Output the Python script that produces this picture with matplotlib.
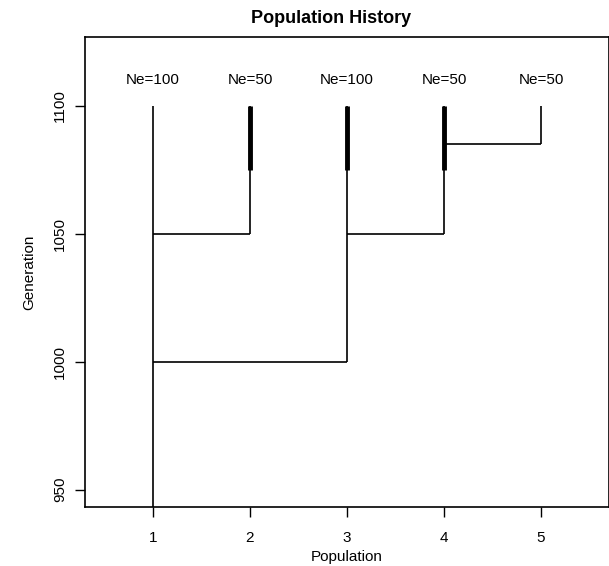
import matplotlib
matplotlib.use("Agg")
import matplotlib.pyplot as plt

plt.rcParams['font.family'] = ['Liberation Sans', 'DejaVu Sans']

populations = [1, 2, 3, 4, 5]
ne_labels = ["Ne=100", "Ne=50", "Ne=100", "Ne=50", "Ne=50"]
top_gen = 1100
# start generation for each population lineage (bottom of vertical)
start_gen = [943.2, 1050, 1000, 1050, 1085]
# bottleneck (thick) segment start generation, None if none
thick_from = [None, 1075, 1075, 1075, None]
# splits: (from population, to population, generation)
splits = [(1, 2, 1050), (1, 3, 1000), (3, 4, 1050), (4, 5, 1085)]
label_gen = 1110

fig = plt.figure(figsize=(6.09, 5.66), dpi=100)
ax = fig.add_axes([85/609, 1-507/566, (609-85)/609, (507-37)/566])

for p, s in zip(populations, start_gen):
    ax.plot([p, p], [s, top_gen], color='black', lw=1.2, solid_capstyle='butt', clip_on=False)
for p, t in zip(populations, thick_from):
    if t is not None:
        ax.plot([p, p], [t, top_gen], color='black', lw=3.5, solid_capstyle='butt')
for a, b, g in splits:
    ax.plot([a, b], [g, g], color='black', lw=1.2, solid_capstyle='butt')
for p, lab in zip(populations, ne_labels):
    ax.text(p, label_gen, lab, ha='center', va='center', fontsize=11)

ax.set_xlim(0.3, 5.7)
ax.set_ylim(943.2, 1126.8)
ax.set_xticks(populations)
ax.set_yticks([950, 1000, 1050, 1100])
ax.set_yticklabels(['950', '1000', '1050', '1100'], rotation=90, va='center')
ax.tick_params(direction='out', length=7, width=1, labelsize=11)
ax.tick_params(axis='x', pad=10)
ax.tick_params(axis='y', pad=6)
for sp in ax.spines.values():
    sp.set_linewidth(1.2)
ax.set_xlabel('Population', fontsize=11, labelpad=4)
ax.set_ylabel('Generation', fontsize=11, labelpad=12)
fig.text(331/609, 1-18.5/566, 'Population History', ha='center', va='center', fontsize=13, fontweight='bold')

fig.savefig('out.png', dpi=100)
